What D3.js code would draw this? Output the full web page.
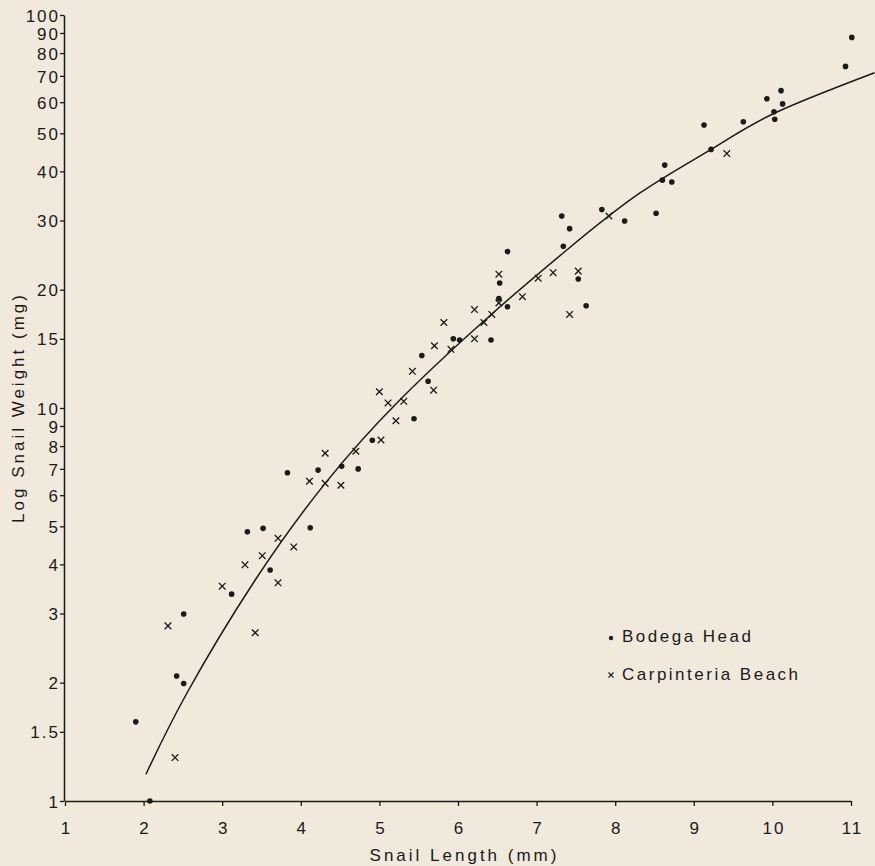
<!DOCTYPE html>
<html>
<head>
<meta charset="utf-8">
<script src="https://cdn.jsdelivr.net/npm/d3@7/dist/d3.min.js"></script>
<style>
  html, body { margin: 0; padding: 0; background: #f1e9dc; }
  svg { display: block; }
  text { font-family: "Liberation Sans", Arial, Helvetica, sans-serif; fill: #1a1a1a; }
</style>
</head>
<body>
<svg id="chart" width="875" height="866"></svg>
<script>
// ---- Data ----
const bodegaLength = [1.90, 2.08, 2.42, 2.51, 2.51, 3.12, 3.32, 3.52, 3.61, 3.83, 4.12, 4.22, 4.52, 4.73, 4.91, 5.44, 5.54, 5.62, 5.94, 6.02, 6.42, 6.52, 6.53, 6.63, 6.63, 7.34, 7.32, 7.42, 7.53, 7.63, 7.83, 8.12, 8.52, 8.60, 8.63, 8.72, 9.13, 9.22, 9.63, 9.93, 10.02, 10.03, 10.11, 10.13, 10.93, 11.01];
const bodegaWeight = [1.59, 1.00, 2.08, 1.99, 2.99, 3.36, 4.84, 4.94, 3.87, 6.84, 4.96, 6.95, 7.11, 7.00, 8.28, 9.39, 13.6, 11.7, 15.0, 14.9, 14.9, 19.0, 20.8, 18.1, 25.0, 25.8, 30.8, 28.6, 21.3, 18.2, 32.0, 29.9, 31.3, 38.0, 41.5, 37.6, 52.5, 45.5, 53.5, 61.2, 56.7, 54.3, 64.2, 59.4, 74.0, 87.7];

const carpLength = [2.31, 2.40, 3.00, 3.29, 3.42, 3.51, 3.71, 3.71, 3.91, 4.11, 4.31, 4.31, 4.51, 4.70, 5.02, 5.00, 5.11, 5.21, 5.31, 5.42, 5.69, 5.70, 5.82, 5.91, 6.21, 6.21, 6.33, 6.43, 6.52, 6.52, 6.82, 7.02, 7.21, 7.42, 7.53, 7.92, 9.42];
const carpWeight = [2.79, 1.29, 3.52, 3.99, 2.68, 4.21, 3.59, 4.66, 4.43, 6.51, 6.43, 7.67, 6.36, 7.76, 8.29, 11.0, 10.3, 9.28, 10.4, 12.4, 11.1, 14.4, 16.5, 14.1, 15.0, 17.8, 16.5, 17.3, 18.5, 21.9, 19.2, 21.4, 22.1, 17.3, 22.3, 30.8, 44.4];

// fitted curve, points
const fitLength = [2.03, 2.55, 3.42, 4.31, 5.26, 6.43, 7.38, 8.32, 9.22, 10.03, 11.30];
const fitWeight = [1.17, 1.88, 3.65, 6.43, 10.48, 17.34, 25.2, 35.3, 45.5, 56.3, 71.3];

const xTicks = [1, 2, 3, 4, 5, 6, 7, 8, 9, 10, 11];
const yTicks = [1, 1.5, 2, 3, 4, 5, 6, 7, 8, 9, 10, 15, 20, 30, 40, 50, 60, 70, 80, 90, 100];

const legendLabels = ["Bodega Head", "Carpinteria Beach"];
const xTitle = "Snail Length (mm)";
const yTitle = "Log Snail Weight (mg)";

// ---- Drawing ----
const svg = d3.select("#chart");
const ink = "#1a1a1a";

const x = d3.scaleLinear().domain([1, 11]).range([65, 851]);
const y = d3.scaleLog().domain([1, 100]).range([801, 15]);

// Y axis
const yAxis = svg.append("g")
  .attr("transform", "translate(64,0)")
  .call(d3.axisLeft(y).tickValues(yTicks).tickFormat(d => String(d)).tickSize(4).tickSizeOuter(0).tickPadding(0));
yAxis.select(".domain").attr("stroke", ink).attr("stroke-width", 1.5);
yAxis.selectAll(".tick line").attr("stroke", ink).attr("stroke-width", 1.3);
yAxis.selectAll(".tick text")
  .style("font-size", "17px").style("letter-spacing", "2px")
  .attr("fill", ink).attr("dx", "0").attr("dy", "0.36em");

// X axis
const xAxis = svg.append("g")
  .attr("transform", "translate(0,801)")
  .call(d3.axisBottom(x).tickValues(xTicks).tickFormat(d => String(d)).tickSize(5).tickSizeOuter(0).tickPadding(16));
xAxis.select(".domain").attr("stroke", ink).attr("stroke-width", 1.5);
xAxis.selectAll(".tick line").attr("stroke", ink).attr("stroke-width", 1.3);
xAxis.selectAll(".tick text")
  .style("font-size", "17px").style("letter-spacing", "2px")
  .attr("fill", ink).attr("dx", "1px");

// Axis titles
svg.append("text")
  .attr("x", 463 + 1.5).attr("y", 861)
  .attr("text-anchor", "middle")
  .style("font-size", "17px").style("letter-spacing", "3px")
  .text(xTitle);

svg.append("text")
  .attr("transform", "translate(24,409) rotate(-90)")
  .attr("text-anchor", "middle")
  .attr("dx", "1.5px")
  .style("font-size", "17px").style("letter-spacing", "3px")
  .text(yTitle);

// Fitted curve
const fitData = fitLength.map((l, i) => ({ l, w: fitWeight[i] }));
svg.append("path")
  .datum(fitData)
  .attr("fill", "none")
  .attr("stroke", ink)
  .attr("stroke-width", 1.5)
  .attr("d", d3.line().x(d => x(d.l)).y(d => y(d.w)).curve(d3.curveNatural));

// Bodega Head dots
const bodega = bodegaLength.map((l, i) => ({ l, w: bodegaWeight[i] }));
svg.append("g").selectAll("circle").data(bodega).join("circle")
  .attr("cx", d => x(d.l)).attr("cy", d => y(d.w))
  .attr("r", 2.8).attr("fill", ink);

// Carpinteria Beach crosses
const crossPath = (cx, cy, s) => `M${cx - s},${cy - s}L${cx + s},${cy + s}M${cx - s},${cy + s}L${cx + s},${cy - s}`;
const carp = carpLength.map((l, i) => ({ l, w: carpWeight[i] }));
svg.append("g").selectAll("path").data(carp).join("path")
  .attr("d", d => crossPath(x(d.l), y(d.w), 3.3))
  .attr("stroke", ink).attr("stroke-width", 1.3).attr("fill", "none");

// Legend
const lg = svg.append("g");
lg.append("circle").attr("cx", 611).attr("cy", 638).attr("r", 2.2).attr("fill", ink);
lg.append("text").attr("x", 622).attr("y", 642)
  .style("font-size", "17px").style("letter-spacing", "2.5px").text(legendLabels[0]);
lg.append("path").attr("d", crossPath(611, 675, 2.5))
  .attr("stroke", ink).attr("stroke-width", 1.1).attr("fill", "none");
lg.append("text").attr("x", 622).attr("y", 680)
  .style("font-size", "17px").style("letter-spacing", "2.5px").text(legendLabels[1]);
</script>
</body>
</html>
